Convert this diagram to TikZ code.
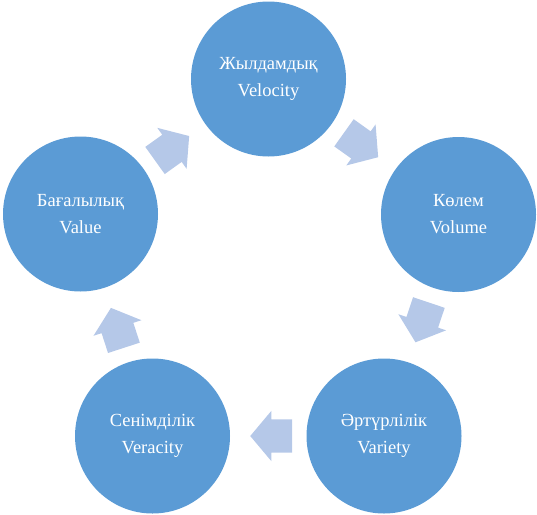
\documentclass[tikz,border=0pt]{standalone}
\usepackage{fontspec}
\setmainfont{Liberation Serif}
\newfontfamily\stagefont{Liberation Serif}
\usetikzlibrary{shapes,arrows,positioning,calc}

\definecolor{stageblue}{HTML}{5B9BD5}
\definecolor{flowblue}{HTML}{B5C8E8}

\begin{document}
\begin{tikzpicture}[
    x=1pt, y=-1pt,
    stage/.style={circle, fill=stageblue, minimum size=155pt, inner sep=0pt, text=white, align=center, font=\stagefont\fontsize{18.5}{27}\selectfont},
    flow/.style={single arrow, fill=flowblue, minimum height=42pt, inner xsep=0pt, inner ysep=16.5pt, single arrow head extend=8.5pt, single arrow tip angle=100, rotate=#1}
]
\useasboundingbox (0,0) rectangle (537,514);

% Stages
\node[stage] (velocity) at (268.5,79) {Жылдамдық\\Velocity};
\node[stage] (volume) at (458.5,214.5) {Көлем\\Volume};
\node[stage] (variety) at (384,436) {Әртүрлілік\\Variety};
\node[stage] (veracity) at (152.5,436) {Сенімділік\\Veracity};
\node[stage] (value) at (80.5,214) {Бағалылық\\Value};

% Arrows (midway, pulled back a little toward the source)
\node[flow=-35.5] (velvol) at ($($(velocity)!0.5!(volume)$)!10pt!(velocity)$) {};
\node[flow=-108.6] (volvar) at ($($(volume)!0.5!(variety)$)!10pt!(volume)$) {};
\node[flow=180] (varver) at ($($(variety)!0.5!(veracity)$)!10pt!(variety)$) {};
\node[flow=108] (verval) at ($($(veracity)!0.5!(value)$)!10pt!(veracity)$) {};
\node[flow=35.6] (valvel) at ($($(value)!0.5!(velocity)$)!10pt!(value)$) {};

\end{tikzpicture}
\end{document}
